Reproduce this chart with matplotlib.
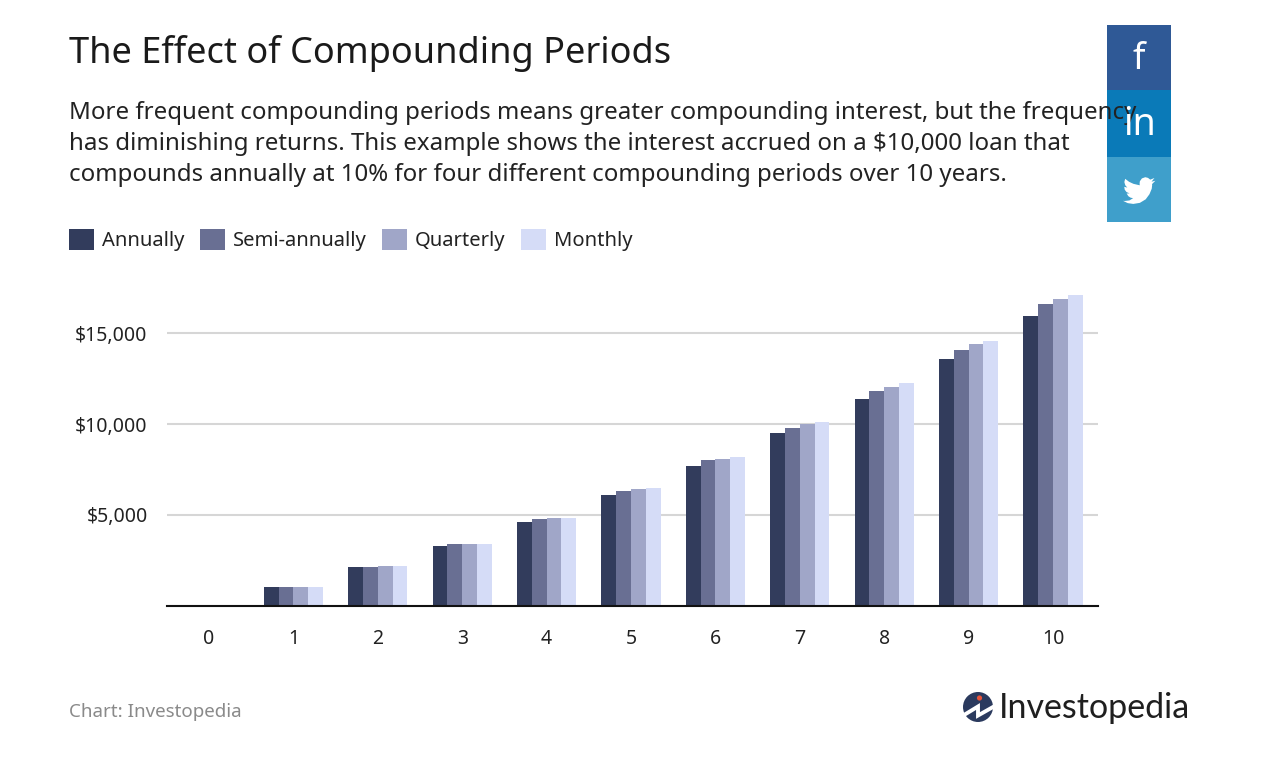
import matplotlib
matplotlib.use("Agg")
import matplotlib.pyplot as plt
import numpy as np
from matplotlib.patches import Circle, Polygon, Rectangle

plt.rcParams["font.family"] = ["Noto Sans", "DejaVu Sans"]

years = [str(y) for y in range(11)]
annually = [0, 1000, 2100, 3300, 4600, 6100, 7700, 9500, 11400, 13600, 15950]
semi_annually = [0, 1000, 2100, 3400, 4750, 6300, 8000, 9800, 11800, 14100, 16600]
quarterly = [0, 1000, 2200, 3400, 4850, 6400, 8100, 10000, 12050, 14400, 16900]
monthly = [0, 1000, 2200, 3400, 4850, 6500, 8200, 10100, 12250, 14600, 17100]

series_names = ["Annually", "Semi-annually", "Quarterly", "Monthly"]
series_colors = ["#323c5c", "#696f93", "#a0a6c8", "#d5dcf7"]

y_ticks = [5000, 10000, 15000]
y_tick_labels = ["$5,000", "$10,000", "$15,000"]

title = "The Effect of Compounding Periods"
body_lines = [
    "More frequent compounding periods means greater compounding interest, but the frequency",
    "has diminishing returns. This example shows the interest accrued on a $10,000 loan that",
    "compounds annually at 10% for four different compounding periods over 10 years.",
]

W, H = 1280, 768
fig = plt.figure(figsize=(W / 100, H / 100), dpi=100, facecolor="white")

# chart area, placed in pixels
left, right, top, base = 167, 1098, 285, 605.5
ax = fig.add_axes([left / W, (H - base) / H, (right - left) / W, (base - top) / H])

x = np.arange(len(years))
bar_w = 0.175
all_series = [annually, semi_annually, quarterly, monthly]
for i, vals in enumerate(all_series):
    ax.bar(x + (i - 1.5) * bar_w, vals, bar_w, color=series_colors[i], zorder=3, label=series_names[i])

ax.set_xlim(-0.4976, 10.533)
ax.set_ylim(0, (base - top) / 90.7 * 5000)
ax.set_xticks(x, years)
ax.set_yticks(y_ticks, y_tick_labels)
ax.tick_params(length=0, labelsize=14, labelcolor="#222222")
ax.tick_params(axis="x", pad=17)
ax.tick_params(axis="y", pad=14)
ax.grid(axis="y", color="#d6d6d6", linewidth=1.5, zorder=0)
for s in ["top", "left", "right"]:
    ax.spines[s].set_visible(False)
ax.spines["bottom"].set_linewidth(1.5)
ax.spines["bottom"].set_color("#111111")
ax.spines["bottom"].set_zorder(5)

handles, labels = ax.get_legend_handles_labels()
fig.legend(handles, labels, loc="upper left", bbox_to_anchor=(69 / W, (H - 229) / H), ncol=4,
           frameon=False, fontsize=14.5, borderpad=0, borderaxespad=0,
           handlelength=1.25, handleheight=1.25, handletextpad=0.4, columnspacing=0.75,
           labelcolor="#222222")

# overlay in pixel coordinates for text and the logos
ov = fig.add_axes([0, 0, 1, 1], zorder=10)
ov.set_xlim(0, W)
ov.set_ylim(H, 0)
ov.axis("off")
ov.patch.set_alpha(0)

ov.text(69, 53, title, fontsize=26, fontweight="bold", color="#1a1a1a", va="center")
for y, line in zip([113, 144, 175], body_lines):
    ov.text(69, y, line, fontsize=17.3, color="#222222", va="center")
ov.text(69, 712, "Chart: Investopedia", fontsize=13.5, color="#8a8a8a", va="center")

# share buttons
ov.add_patch(Rectangle((1107, 25), 64, 65, color="#2f5996", lw=0))
ov.add_patch(Rectangle((1107, 90), 64, 67, color="#0a7ab8", lw=0))
ov.add_patch(Rectangle((1107, 157), 64, 65, color="#3f9fcb", lw=0))
ov.text(1139, 60, "f", fontsize=26, fontweight="bold", color="white", ha="center", va="center")
ov.text(1139, 125, "in", fontsize=27, fontweight="bold", color="white", ha="center", va="center")
bird = np.array([(24, 4.6), (21.1, 5.35), (23.3, 2.6), (20.2, 3.8), (18.5, 2.5), (16.5, 2.0), (14, 2.9),
                 (12.5, 5), (12.3, 6.5), (12.4, 8), (7.7, 6.9), (4.5, 5.4), (1.6, 3.2), (1, 5.6), (1.7, 8),
                 (3.2, 9.7), (0.9, 9.1), (1.3, 11.3), (2.6, 13), (4.9, 14), (2.7, 14.1), (4, 16.1),
                 (5.7, 17.2), (7.5, 17.5), (4.8, 19.2), (1.4, 19.6), (0, 19.5), (3.5, 21.2), (7.6, 21.8),
                 (12.5, 21), (16.8, 18.4), (19.6, 14.6), (21.3, 10.5), (21.6, 7.8), (21.5, 7.1)])
ov.add_patch(Polygon(bird * 1.35 + [1123, 174.5], closed=True, color="white", lw=0))

# Investopedia logo
ov.add_patch(Circle((978, 707), 15, color="#2b3a5e", lw=0))
ov.add_patch(Circle((979.5, 698), 2.6, color="#e8543a", lw=0))
ov.plot([964, 978, 978, 993], [715, 706.5, 715.5, 707], color="white", lw=2.8, solid_joinstyle="miter")
ov.text(999, 708, "Investopedia", fontsize=24.5, color="#1f1f1f", family="Lato", va="center")

fig.savefig("out.png", dpi=100)
